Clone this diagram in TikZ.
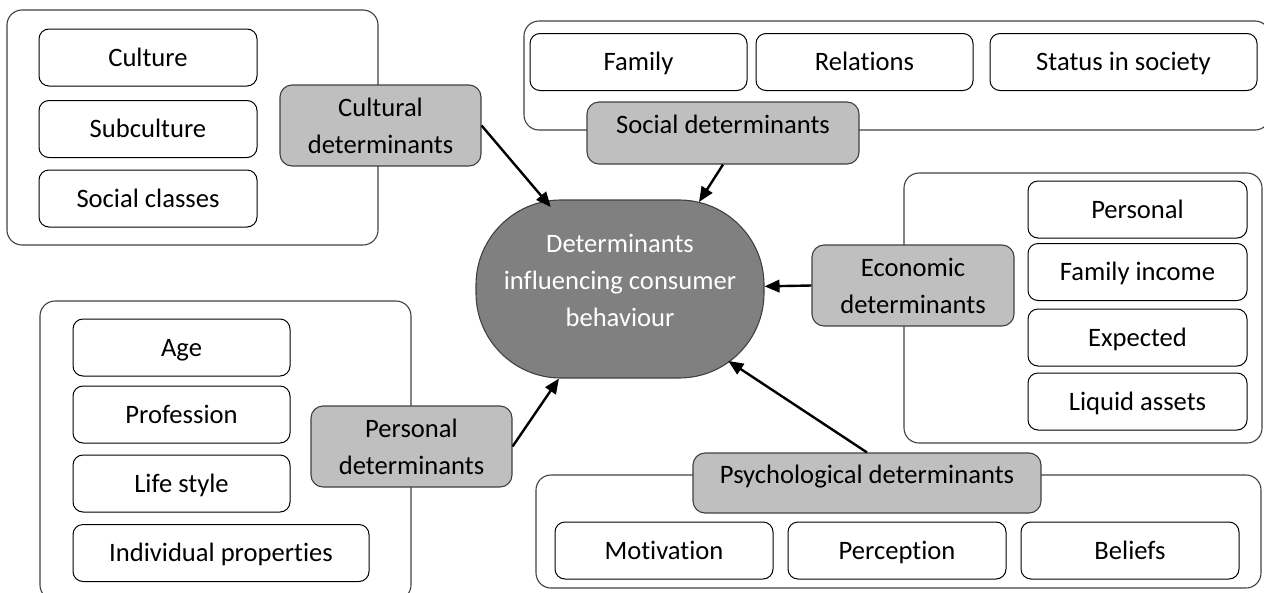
\documentclass[tikz,border=0pt]{standalone}
\usepackage{fontspec}
\setmainfont{Carlito}[Ligatures=NoCommon]
\usetikzlibrary{arrows.meta, positioning}

\begin{document}
\begin{tikzpicture} [%
    x = 1pt, y = -1pt,
    on grid,
    >= {Triangle[length=15pt, width=12.5pt]},
    font = \fontsize{26.6}{37}\selectfont,
    panel/.style = {%
      draw = black!75, line width = 1.1pt,
      rounded corners = 15pt, inner sep = 0pt},
    item/.style = {%
      draw, line width = 1pt, fill = white,
      rounded corners = 10pt, inner sep = 0pt,
      text height = 20pt, text depth = 3pt,
      minimum width = 218pt, minimum height = 57pt},
    det/.style = {%
      draw = black!75, line width = 1.1pt, fill = black!25,
      rounded corners = 12pt, inner sep = 0pt, align = center,
      minimum width = 201pt, minimum height = 81pt},
    core/.style = {%
      draw = black!75, line width = 1.1pt, fill = black!50,
      text = white, rounded corners = 85pt, align = center,
      minimum width = 288pt, minimum height = 178pt},
    link/.style = {->, line width = 2.4pt}
  ]

\useasboundingbox (0,0) rectangle (1264,592);
\clip (0,0) rectangle (1264,592);

% groups
\node[panel, minimum width = 371pt, minimum height = 235pt] (cult_p) at (192.5,127.5) {};
\node[panel, minimum width = 746pt, minimum height = 109pt] (soc_p)  at (897,75.5) {};
\node[panel, minimum width = 358pt, minimum height = 270pt] (eco_p)  at (1083,308) {};
\node[panel, minimum width = 371pt, minimum height = 299pt] (pers_p) at (225.5,450.5) {};
\node[panel, minimum width = 725pt, minimum height = 113pt] (psy_p)  at (898.5,531.5) {};

% cultural
\node[item] (culture)    at (148,57.5) {Culture};
\node[item] (subculture) [below=71.5pt of culture] {Subculture};
\node[item] (classes)    [below=69.5pt of subculture] {Social classes};

% social
\node[item, minimum width=217pt] (family)    at (638.5,62) {Family};
\node[item, minimum width=217pt] (relations) [right=226pt of family] {Relations};
\node[item, minimum width=267pt] (status)    [right=259pt of relations] {Status in society};

% economic
\node[item, minimum width=219pt] (personal) at (1137.5,209.5) {Personal};
\node[item, minimum width=219pt] (income)   [below=62.5pt of personal] {Family income};
\node[item, minimum width=219pt] (expected) [below=65.5pt of income] {Expected};
\node[item, minimum width=219pt] (liquid)   [below=64pt of expected] {Liquid assets};

% personal
\node[item, minimum width=217pt] (age)        at (181.5,347.5) {Age};
\node[item, minimum width=217pt] (profession) [below=67pt of age] {Profession};
\node[item, minimum width=217pt] (lifestyle)  [below=69pt of profession] {Life style};
\node[item, minimum width=296pt] (individual) at (221,553) {Individual properties};

% psychological
\node[item] (motivation) at (664,550.5) {Motivation};
\node[item] (perception) [right=233pt of motivation] {Perception};
\node[item] (beliefs)    [right=233pt of perception] {Beliefs};

% determinants
\node[det] (cult_d) at (380.5,125.5) {Cultural\\determinants};
\node[det, minimum width=272pt, minimum height=62pt, text depth=18pt]
  (soc_d) at (723,133) {Social determinants};
\node[det, minimum width=202pt] (eco_d) at (913,285.5) {Economic\\determinants};
\node[det] (pers_d) at (411.5,446.5) {Personal\\determinants};
\node[det, minimum width=348pt, minimum height=60pt, text depth=18pt]
  (psy_d) at (867,483) {Psychological determinants};

\node[core, text depth=18pt] (core) at (620,289)
  {Determinants\\influencing consumer\\behaviour};

\path[link]
(cult_d.east) edge [shorten >= -10pt] (core)
(soc_d.south) edge [shorten >= -3pt] (core.48)
(eco_d.west)  edge (core)
(pers_d.east) edge (core)
(psy_d.north) edge [shorten >= -32pt] (core);

\end{tikzpicture}
\end{document}
